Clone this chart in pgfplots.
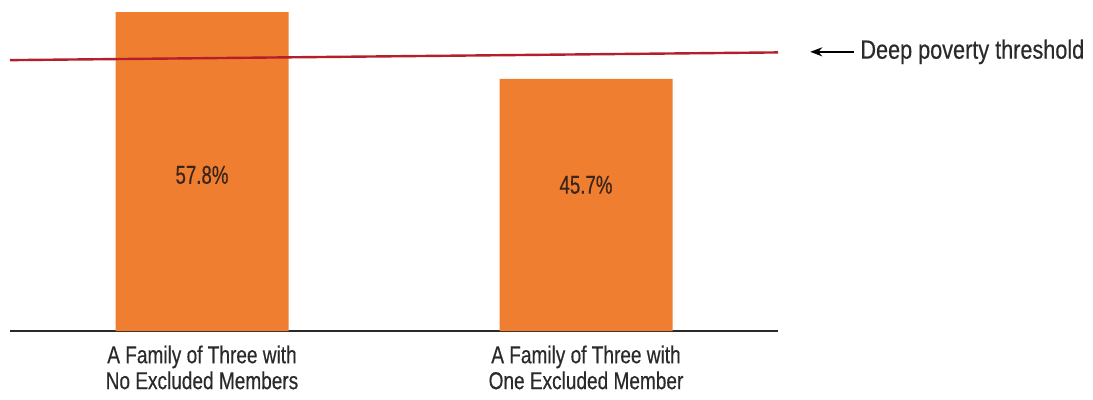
\documentclass[border=0pt]{standalone}
\usepackage{pgfplots}
\pgfplotsset{compat=1.18}
\usepackage{fontspec}
\setmainfont{Liberation Sans}[FakeStretch=0.82,FakeBold=0.4]
\newfontfamily\tickfont{Liberation Sans}[FakeStretch=0.78,FakeBold=0.4]
\newfontfamily\pctfont{Liberation Sans}[FakeStretch=0.72,FakeBold=0.4]
\usetikzlibrary{arrows.meta}
\definecolor{barorange}{HTML}{F07E31}
\definecolor{threshred}{HTML}{B3202C}
\definecolor{txtgray}{HTML}{2A2A2A}
\definecolor{pcttxt}{HTML}{3A2518}
\begin{document}
\begin{tikzpicture}
\useasboundingbox (0,0) rectangle (1093bp,400bp);
\begin{axis}[
  at={(10bp,69bp)}, anchor=south west,
  scale only axis, width=768bp, height=331bp,
  xmin=-0.5, xmax=1.5, ymin=0, ymax=60,
  axis x line=bottom, axis y line=none,
  x axis line style={-, draw=txtgray, line width=1.6bp},
  xtick=data, major tick length=0pt,
  xticklabels={{A Family of Three with\\No Excluded Members},{A Family of Three with\\One Excluded Member}},
  xticklabel style={align=center, font=\tickfont\fontsize{24.5}{26}\selectfont, text=txtgray, yshift=-11bp},
  ytick=\empty,
  clip=false,
  ybar, bar width=173bp,
]
\addplot[fill=barorange, draw=none] coordinates {(0,57.8) (1,45.7)};
\addplot[sharp plot, draw=threshred, line width=2.4bp, no marks, forget plot] coordinates {(-0.5,49.1) (1.5,50.5)};
\node[text=pcttxt, font=\pctfont\fontsize{26}{28}\selectfont] at (axis cs:0,28.3) {57.8\%};
\node[text=pcttxt, font=\pctfont\fontsize{26}{28}\selectfont] at (axis cs:1,26.5) {45.7\%};
\draw[{Stealth[length=12bp,width=9bp]}-, line width=2bp, black] (axis cs:1.584,50.6) -- (axis cs:1.699,50.6)
  node[right, inner sep=0pt, xshift=5bp, text=txtgray, font=\fontsize{26.5}{28}\selectfont] {Deep poverty threshold};
\end{axis}
\end{tikzpicture}
\end{document}
